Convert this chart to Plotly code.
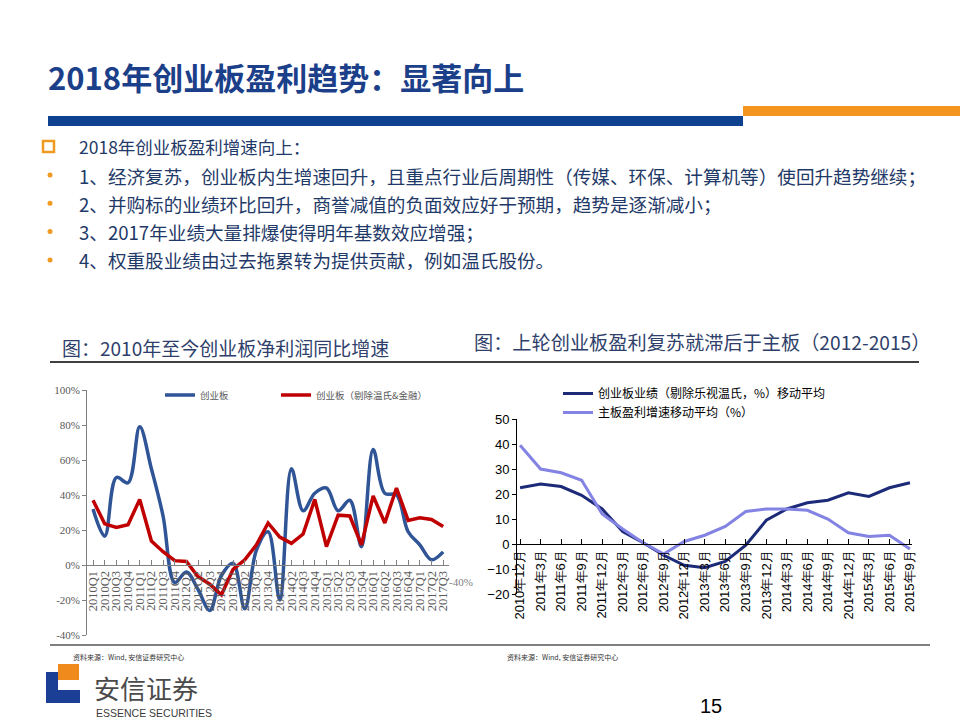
import plotly.graph_objects as go

W, H = 960, 720

# ---------------- data ----------------
left_cats = ["2010Q1", "2010Q2", "2010Q3", "2010Q4", "2011Q1", "2011Q2", "2011Q3", "2011Q4",
             "2012Q1", "2012Q2", "2012Q3", "2012Q4", "2013Q1", "2013Q2", "2013Q3", "2013Q4",
             "2014Q1", "2014Q2", "2014Q3", "2014Q4", "2015Q1", "2015Q2", "2015Q3", "2015Q4",
             "2016Q1", "2016Q2", "2016Q3", "2016Q4", "2017Q1", "2017Q2", "2017Q3"]
gem_all = [32, 16.5, 50, 47, 79, 55, 28, -10, -4, -14, -26, -6, 1, -25, 8.5, 19,
           -20, 55, 31, 41, 44, 31, 37, 10.5, 66, 41, 40, 19, 11.5, 3, 7.5]
gem_ex = [37, 23.5, 21.5, 23, 37.5, 13.7, 7.6, 2.5, 2, -6.7, -11, -17, -2.5, 3, 11.5, 24,
          16, 12.4, 17.7, 37.5, 10.5, 28.5, 28, 11.5, 39.5, 24, 44, 25.5, 27, 26, 22]
left_yticks = [-40, -20, 0, 20, 40, 60, 80, 100]
left_yticklabels = ["-40%", "-20%", "0%", "20%", "40%", "60%", "80%", "100%"]

right_cats = ["2010年12月", "2011年3月", "2011年6月", "2011年9月", "2011年12月", "2012年3月",
              "2012年6月", "2012年9月", "2012年12月", "2013年3月", "2013年6月", "2013年9月",
              "2013年12月", "2014年3月", "2014年6月", "2014年9月", "2014年12月", "2015年3月",
              "2015年6月", "2015年9月"]
gem_ma = [22.5, 24, 23, 19.5, 14, 5, 0.5, -4.5, -8.5, -9.5, -7, -0.5, 9.5, 14, 16.5, 17.5,
          20.5, 19, 22.5, 24.5]
main_ma = [39.5, 30, 28.5, 25.5, 12, 6, 0.5, -4, 1, 3.5, 7, 13, 14, 14, 13.5, 10, 4.5, 3,
           3.5, -2]
right_yticks = [-20, -10, 0, 10, 20, 30, 40, 50]

bullets = [
    "1、经济复苏，创业板内生增速回升，且重点行业后周期性（传媒、环保、计算机等）使回升趋势继续；",
    "2、并购标的业绩环比回升，商誉减值的负面效应好于预期，趋势是逐渐减小；",
    "3、2017年业绩大量排爆使得明年基数效应增强；",
    "4、权重股业绩由过去拖累转为提供贡献，例如温氏股份。",
]

# ---------------- helpers ----------------
def px(x):
    return x / W

def py(y):
    return 1 - y / H

CJK = "Noto Sans CJK SC, Microsoft YaHei, sans-serif"
SERIF = "Liberation Serif, Times New Roman, serif"
ARIAL = "Liberation Sans, Arial, sans-serif"

xl = list(range(len(left_cats)))
xr = list(range(len(right_cats)))

fig = go.Figure()

# left chart traces
fig.add_trace(go.Scatter(x=xl, y=gem_all, mode="lines", name="创业板",
                         line=dict(color="#2F5597", width=3.5, shape="spline", smoothing=1.0),
                         xaxis="x", yaxis="y", legend="legend"))
fig.add_trace(go.Scatter(x=xl, y=gem_ex, mode="lines", name="创业板（剔除温氏&金融）",
                         line=dict(color="#C00000", width=3.5),
                         xaxis="x", yaxis="y", legend="legend3"))
# right chart traces
fig.add_trace(go.Scatter(x=xr, y=gem_ma, mode="lines",
                         name="创业板业绩（剔除乐视温氏，%）移动平均",
                         line=dict(color="#1C2A78", width=3),
                         xaxis="x2", yaxis="y2", legend="legend2"))
fig.add_trace(go.Scatter(x=xr, y=main_ma, mode="lines",
                         name="主板盈利增速移动平均（%）",
                         line=dict(color="#8383E4", width=3),
                         xaxis="x2", yaxis="y2", legend="legend2"))

shapes = []
ann = []

def text(t, x, y, size, color, family=CJK, xanchor="left"):
    ann.append(dict(text=t, x=px(x), y=py(y), xref="paper", yref="paper",
                    xanchor=xanchor, yanchor="middle", showarrow=False,
                    font=dict(family=family, size=size, color=color)))

def rect(x0, y0, x1, y1, fill, line=None, kind="rect"):
    shapes.append(dict(type=kind, xref="paper", yref="paper", x0=px(x0), x1=px(x1),
                       y0=py(y1), y1=py(y0), fillcolor=fill,
                       line=line if line else dict(width=0)))

# title bars
rect(48, 116, 743, 126, "#0E4290")
rect(743, 106, 960, 116, "#F4961E")
text("<b>2018年创业板盈利趋势：显著向上</b>", 46, 77, 31, "#1C3F8A")

# bullets
TXT = "#1F3A68"
rect(43, 141, 54, 152, "white", dict(color="#F09A22", width=2.5))
text("2018年创业板盈利增速向上：", 77, 147, 17.5, TXT)
for i, t in enumerate(bullets):
    yy = 175 + i * 28.3
    rect(47.5, yy - 2.5, 52.5, yy + 2.5, "#F09A22", kind="circle")
    text(t, 77, yy, 18.6, TXT)

# chart titles
CT = "#2F3F6B"
text("图：2010年至今创业板净利润同比增速", 60, 347, 19, CT)
text("图：上轮创业板盈利复苏就滞后于主板（2012-2015）", 472, 342, 19.2, CT)
shapes.append(dict(type="line", xref="paper", yref="paper", x0=px(50), x1=px(919),
                   y0=py(362), y1=py(362), line=dict(color="#000000", width=1.3)))

# artifact label on left chart
text("-40%", 447, 582, 11, "#7F7F7F", family=SERIF)

# footer
shapes.append(dict(type="line", xref="paper", yref="paper", x0=px(50), x1=px(930),
                   y0=py(645), y1=py(645), line=dict(color="#000000", width=1)))
for xx in (71, 505):
    text("资料来源：Wind, 安信证券研究中心", xx, 657, 7, "#333333")

# logo
rect(58, 664, 79, 680, "#F08A1C")
rect(46, 672, 58, 703, "#1B3F94")
rect(46, 690, 80, 703, "#1B3F94")
text("安信证券", 92, 687, 26, "#4A4A4A")
text("ESSENCE SECURITIES", 94, 713, 10.5, "#3A3A3A",
     family="Liberation Sans Narrow, Arial Narrow, " + ARIAL)
text("15", 711, 706, 20, "#000000", family=ARIAL, xanchor="center")

GRAY = "#808080"
fig.update_layout(
    width=W, height=H, margin=dict(l=0, r=0, t=0, b=0, autoexpand=False),
    paper_bgcolor="white", plot_bgcolor="white",
    shapes=shapes, annotations=ann,
    xaxis=dict(domain=[px(87.2), px(449)], anchor="free", position=py(565),
               range=[-0.5, 30.5], tickvals=xl, ticktext=left_cats,
               showline=True, linecolor=GRAY,
               linewidth=1, ticks="inside", ticklen=5, tickcolor=GRAY, tickangle=-90,
               showgrid=False, zeroline=False,
               tickfont=dict(family=SERIF, size=12.5, color="#595959")),
    yaxis=dict(domain=[py(635), py(390)], anchor="x", range=[-40, 100],
               tickvals=left_yticks, ticktext=left_yticklabels, showline=True,
               linecolor=GRAY, linewidth=1, ticks="outside", ticklen=4, tickcolor=GRAY,
               showgrid=False, zeroline=False,
               tickfont=dict(family=SERIF, size=11, color="#595959")),
    xaxis2=dict(domain=[px(517), px(912)], anchor="free", position=py(544),
                range=[-0.15, 19.1], tickvals=xr,
                ticktext=right_cats, showline=True, linecolor="#000000", linewidth=1,
                ticks="inside", ticklen=5, tickcolor="#000000", tickangle=-90,
                showgrid=False, zeroline=False,
                tickfont=dict(family=ARIAL, size=13, color="#000000")),
    yaxis2=dict(domain=[py(594), py(419)], anchor="x2", range=[-20, 50],
                tickvals=right_yticks, showline=True, linecolor="#000000", linewidth=1,
                ticks="outside", ticklen=4, tickcolor="#000000", showgrid=False,
                zeroline=False, tickfont=dict(family=ARIAL, size=13, color="#000000")),
    legend=dict(orientation="h", x=px(160), y=py(395), xanchor="left", yanchor="middle",
                bgcolor="rgba(0,0,0,0)", font=dict(family=CJK, size=9.5, color="#595959"),
                itemwidth=30),
    legend3=dict(orientation="h", x=px(276), y=py(395), xanchor="left", yanchor="middle",
                 bgcolor="rgba(0,0,0,0)", font=dict(family=CJK, size=9.5, color="#595959"),
                 itemwidth=30),
    legend2=dict(orientation="v", x=px(558), y=py(379), xanchor="left", yanchor="top",
                 bgcolor="rgba(0,0,0,0)", font=dict(family=CJK, size=12, color="#000000"),
                 itemwidth=30, tracegroupgap=0),
    showlegend=True,
)

fig.write_html("out.html", config={"displayModeBar": False},
               post_script="document.body.style.margin='0px';document.body.style.overflow='hidden';")
